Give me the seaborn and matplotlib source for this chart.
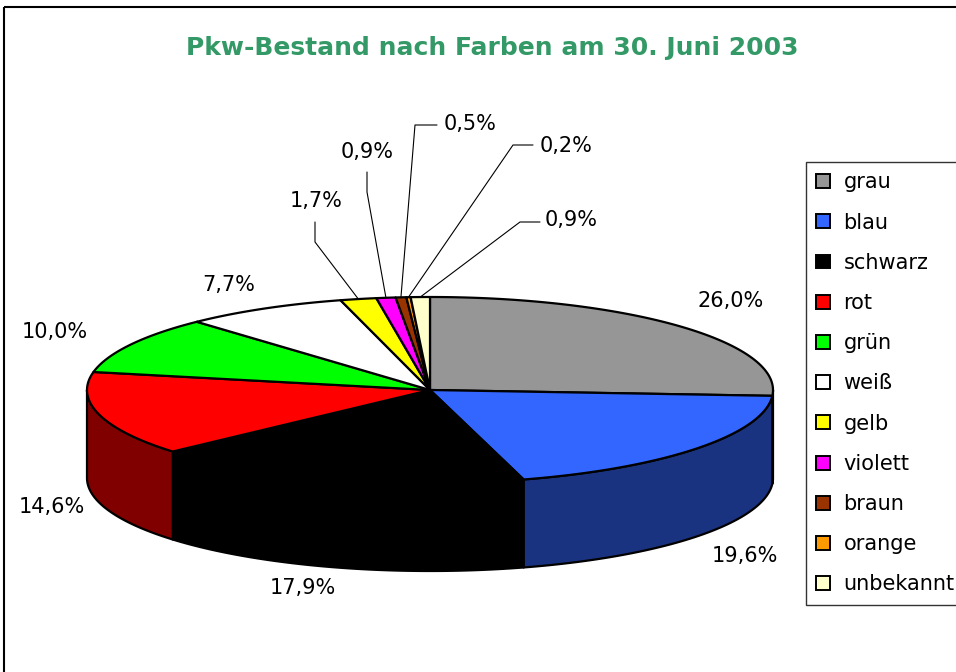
import numpy as np
import matplotlib
matplotlib.use("Agg")
import matplotlib.pyplot as plt
from matplotlib.patches import Polygon, Rectangle, Patch
import seaborn as sns

# data
farben = ["grau", "blau", "schwarz", "rot", "grün", "weiß", "gelb",
          "violett", "braun", "orange", "unbekannt"]
anteil = [26.0, 19.6, 17.9, 14.6, 10.0, 7.7, 1.7, 0.9, 0.5, 0.2, 0.9]
farbcodes = ["#969696", "#3366FF", "#000000", "#FF0000", "#00FF00", "#FFFFFF",
             "#FFFF00", "#FF00FF", "#993300", "#FF9900", "#FFFFCC"]

sns.set_theme(style="white")
plt.rcParams["font.family"] = ["DejaVu Sans"]
plt.rcParams["text.color"] = "black"

top_cols = sns.color_palette(farbcodes)
side_cols = [tuple(c * 0.5 for c in col) for col in top_cols]

fig = plt.figure(figsize=(9.56, 6.72), dpi=100)
ax = fig.add_axes([0, 0, 1, 1])
ax.set_xlim(0, 956)
ax.set_ylim(672, 0)
ax.axis("off")

# outer frame of the chart area
ax.add_patch(Rectangle((4, 7), 970, 700, fill=False, ec="black", lw=1.5))

# 3d pie geometry (pixel units)
cx, cy, rx, ry, depth = 430, 390, 343, 93, 88


def pt(theta, dy=0):
    t = np.radians(theta)
    return cx + rx * np.sin(t), cy - ry * np.cos(t) + dy


vals = np.array(anteil)
bounds = np.concatenate([[0], np.cumsum(vals) / vals.sum() * 360])

# side walls (front half only: 90..270 deg)
for i in range(len(vals)):
    a, b = max(bounds[i], 90), min(bounds[i + 1], 270)
    if b <= a:
        continue
    th = np.linspace(a, b, 60)
    upper = [pt(t) for t in th]
    lower = [pt(t, depth) for t in th[::-1]]
    ax.add_patch(Polygon(upper + lower, closed=True, fc=side_cols[i],
                         ec="black", lw=1.6, joinstyle="round"))

# top faces
for i in range(len(vals)):
    th = np.linspace(bounds[i], bounds[i + 1], 80)
    poly = [(cx, cy)] + [pt(t) for t in th]
    ax.add_patch(Polygon(poly, closed=True, fc=top_cols[i], ec="black",
                         lw=1.6, joinstyle="round"))

# labels
lab_pos = [(731, 301), (745, 556), (303, 588), (52, 507), (55, 332),
           (229, 285), (316, 201), (367, 152), (470, 124), (566, 146),
           (571, 220)]
# leader line elbows for the small slices: (label end, elbow)
leaders = {6: [(315, 222), (315, 242)],
           7: [(367, 172), (367, 192)],
           8: [(437, 125), (415, 125)],
           9: [(533, 145), (513, 145)],
           10: [(540, 222), (520, 222)]}

for i, v in enumerate(anteil):
    txt = f"{v:.1f}".replace(".", ",") + "%"
    ax.text(lab_pos[i][0], lab_pos[i][1], txt, ha="center", va="center",
            fontsize=15, color="black")
    if i in leaders:
        mid = (bounds[i] + bounds[i + 1]) / 2
        pts = leaders[i] + [pt(mid)]
        xs, ys = zip(*pts)
        ax.plot(xs, ys, color="black", lw=0.8)

ax.text(492, 48, "Pkw-Bestand nach Farben am 30. Juni 2003", ha="center",
        va="center", fontsize=18, fontweight="bold", color="#339966")

handles = [Patch(fc=top_cols[i], ec="black", lw=1.4) for i in range(len(farben))]
leg = fig.legend(handles, farben, loc="upper left",
                 bbox_to_anchor=(806 / 956, 1 - 162 / 672), fontsize=15,
                 frameon=True, fancybox=False, shadow=False,
                 handlelength=0.65, handleheight=0.65, handletextpad=0.65,
                 labelspacing=0.97, borderpad=0.5, borderaxespad=0,
                 labelcolor="black")
leg.get_frame().set_edgecolor("black")
leg.get_frame().set_linewidth(1.0)

fig.savefig("out.png", dpi=100)
